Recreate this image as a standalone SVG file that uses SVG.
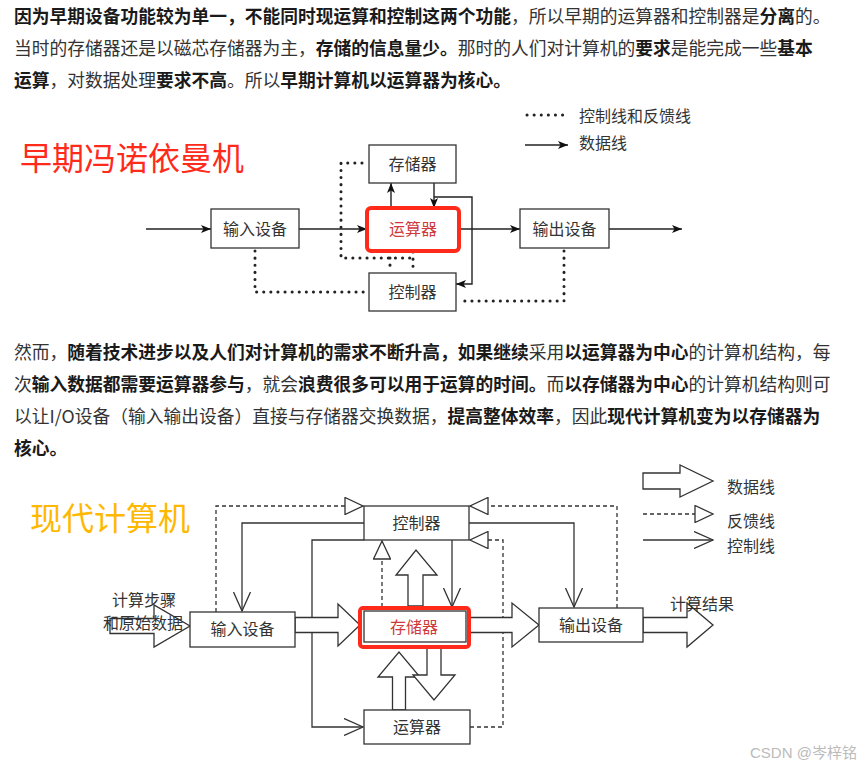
<svg xmlns="http://www.w3.org/2000/svg" width="867" height="768" viewBox="0 0 867 768">
<defs>
<style>
.p{font-family:"Noto Sans CJK SC","Noto Sans",sans-serif;font-size:17.75px;fill:#333}
.b{font-weight:700;fill:#1a1a1a}
.t{font-family:"Noto Sans CJK SC","Noto Sans",sans-serif;font-size:16px;fill:#333}
.c{text-anchor:middle}
.box{fill:#fff;stroke:#333;stroke-width:1.3}
.red{fill:none;stroke:#ff2a1a;stroke-width:4}
.ln{fill:none;stroke:#222;stroke-width:1.4}
.dot{fill:none;stroke:#222;stroke-width:3;stroke-dasharray:0.1 7;stroke-linecap:round}
.th{fill:none;stroke:#333;stroke-width:1.3}
.da{fill:none;stroke:#333;stroke-width:1.3;stroke-dasharray:4 3}
.ho{fill:#fff;stroke:#333;stroke-width:1.3}
</style>
<marker id="ar" viewBox="0 0 10 8" refX="10" refY="4" markerWidth="10" markerHeight="8" markerUnits="userSpaceOnUse" orient="auto">
<path d="M0,0 L10,4 L0,8 L2.5,4 z" fill="#111"/>
</marker>
<marker id="va" viewBox="0 0 20 18" refX="19.5" refY="9" markerWidth="20" markerHeight="18" markerUnits="userSpaceOnUse" orient="auto">
<path d="M0.5,0.5 L19.5,9 L0.5,17.5" fill="none" stroke="#333" stroke-width="1.3"/>
</marker>
<marker id="tr" viewBox="0 0 20 18" refX="19" refY="9" markerWidth="20" markerHeight="18" markerUnits="userSpaceOnUse" orient="auto">
<path d="M1,0.5 L19,9 L1,17.5 z" fill="#fff" stroke="#333" stroke-width="1.3" stroke-dasharray="none"/>
</marker>
</defs>
<rect width="867" height="768" fill="#fff"/>

<g id="para1">
<text class="p" x="14" y="23"><tspan class="b">因为早期设备功能较为单一，不能同时现运算和控制这两个功能</tspan>，所以早期的运算器和控制器是<tspan class="b">分离</tspan>的。</text>
<text class="p" x="14" y="55">当时的存储器还是以磁芯存储器为主，<tspan class="b">存储的信息量少。</tspan>那时的人们对计算机的<tspan class="b">要求</tspan>是能完成一些<tspan class="b">基本</tspan></text>
<text class="p" x="14" y="87"><tspan class="b">运算</tspan>，对数据处理<tspan class="b">要求不高</tspan>。所以<tspan class="b">早期计算机以运算器为核心。</tspan></text>
</g>

<text id="title1" x="20" y="170" font-family="Noto Sans CJK SC, sans-serif" font-size="32" fill="#ff2a1a">早期冯诺依曼机</text>

<g id="legend1">
<path class="dot" d="M527,115 H564"/>
<text class="t" x="579" y="122">控制线和反馈线</text>
<path class="ln" d="M525,145 H568" marker-end="url(#ar)"/>
<text class="t" x="579" y="149">数据线</text>
</g>

<g id="early-connectors">
<path class="ln" d="M146,229 H211" marker-end="url(#ar)"/>
<path class="ln" d="M299,229 H367" marker-end="url(#ar)"/>
<path class="ln" d="M459,229 H520" marker-end="url(#ar)"/>
<path class="ln" d="M609,229 H682" marker-end="url(#ar)"/>
<path class="ln" d="M391,208 V183" marker-end="url(#ar)"/>
<path class="ln" d="M434,183 V208" marker-end="url(#ar)"/>
<path class="ln" d="M434,197 H472 V284 H456" marker-end="url(#ar)"/>
<path class="dot" d="M362,163 H341 V258 H413"/>
<path class="dot" d="M390,258 V272"/>
<path class="dot" d="M413,252 V272"/>
<path class="dot" d="M255,251 V292 H365"/>
<path class="dot" d="M564,251 V301 H460"/>
</g>

<g id="e-mem"><rect class="box" x="369" y="145" width="87" height="38"/><text class="t c" x="412.5" y="170">存储器</text></g>
<g id="e-alu"><rect class="red" x="367" y="208" width="92" height="43" rx="4"/><text class="t c" x="413" y="235" style="fill:#d03a3a">运算器</text></g>
<g id="e-ctl"><rect class="box" x="369" y="273" width="87" height="38"/><text class="t c" x="412.5" y="298">控制器</text></g>
<g id="e-in"><rect class="box" x="211" y="209" width="88" height="39"/><text class="t c" x="255" y="235">输入设备</text></g>
<g id="e-out"><rect class="box" x="520" y="209" width="89" height="39"/><text class="t c" x="564.5" y="235">输出设备</text></g>

<g id="para2">
<text class="p" x="14" y="359">然而，<tspan class="b">随着技术进步以及人们对计算机的需求不断升高，如果继续</tspan>采用<tspan class="b">以运算器为中心</tspan>的计算机结构，每</text>
<text class="p" x="14" y="391">次<tspan class="b">输入数据都需要运算器参与</tspan>，就会<tspan class="b">浪费很多可以用于运算的时间。</tspan>而<tspan class="b">以存储器为中心</tspan>的计算机结构则可</text>
<text class="p" x="14" y="423">以让I/O设备（输入输出设备）直接与存储器交换数据，<tspan class="b">提高整体效率</tspan>，因此<tspan class="b">现代计算机变为以存储器为</tspan></text>
<text class="p" x="14" y="455"><tspan class="b">核心。</tspan></text>
</g>

<text id="title2" x="30" y="530" font-family="Noto Sans CJK SC, sans-serif" font-size="32" fill="#ffb800">现代计算机</text>

<g id="legend2">
<polygon class="ho" points="643,473 680,473 680,465 713,481 680,497 680,489 643,489"/>
<text class="t" x="727" y="493">数据线</text>
<path class="da" d="M643,514 H713" marker-end="url(#tr)"/>
<text class="t" x="727" y="527">反馈线</text>
<path class="th" d="M643,540 H713" marker-end="url(#va)"/>
<text class="t" x="727" y="552">控制线</text>
</g>

<g id="modern-connectors">
<path class="th" d="M364,523 H242 V611" marker-end="url(#va)"/>
<path class="th" d="M469,523 H574 V607" marker-end="url(#va)"/>
<path class="th" d="M452,540 V607" marker-end="url(#va)"/>
<path class="th" d="M364,540 H312 V727 H363" marker-end="url(#va)"/>
<path class="da" d="M216,612 V506 H363" marker-end="url(#tr)"/>
<path class="da" d="M617,608 V506 H470" marker-end="url(#tr)"/>
<path class="da" d="M470,727 H503 V540 H470" marker-end="url(#tr)"/>
<path class="da" d="M382,607 V541" marker-end="url(#tr)"/>
<polygon class="ho" points="110,618.5 154,618.5 154,605 190,626 154,647 154,633.5 110,633.5"/>
<polygon class="ho" points="295,617.5 338,617.5 338,604 360,625 338,646 338,632.5 295,632.5"/>
<polygon class="ho" points="470,617.5 512,617.5 512,603 539,625 512,647 512,632.5 470,632.5"/>
<polygon class="ho" points="643,617.5 687,617.5 687,603 713,625 687,647 687,632.5 643,632.5"/>
<polygon class="ho" points="392.5,710 392.5,677 378,677 399,652 420,677 405.5,677 405.5,710"/>
<polygon class="ho" points="427,646 427,675 413,675 434,700 455,675 441,675 441,646"/>
<polygon class="ho" points="408,606 408,575 396,575 416,550 437,575 423,575 423,606"/>
</g>

<g id="m-ctl"><rect class="box" x="364" y="506" width="105" height="34"/><text class="t c" x="416.5" y="529">控制器</text></g>
<g id="m-mem"><rect class="box" x="364" y="611" width="102" height="31"/><rect class="red" x="360" y="608" width="109" height="39" rx="3"/><text class="t c" x="414" y="633" style="fill:#d03a3a">存储器</text></g>
<g id="m-in"><rect class="box" x="190" y="612" width="105" height="35"/><text class="t c" x="242.5" y="635">输入设备</text></g>
<g id="m-out"><rect class="box" x="539" y="608" width="104" height="34"/><text class="t c" x="591" y="631">输出设备</text></g>
<g id="m-alu"><rect class="box" x="364" y="710" width="106" height="34"/><text class="t c" x="417" y="733">运算器</text></g>

<g id="labels2">
<text class="t" x="112" y="606" font-size="15.5">计算步骤</text>
<text class="t" x="103" y="629" font-size="15.5">和原始数据</text>
<text class="t" x="670" y="610">计算结果</text>
</g>
<text id="watermark" x="750" y="758" font-family="Liberation Sans, Noto Sans CJK SC, sans-serif" font-size="15" fill="#bbb">CSDN @岑梓铭</text>
</svg>
